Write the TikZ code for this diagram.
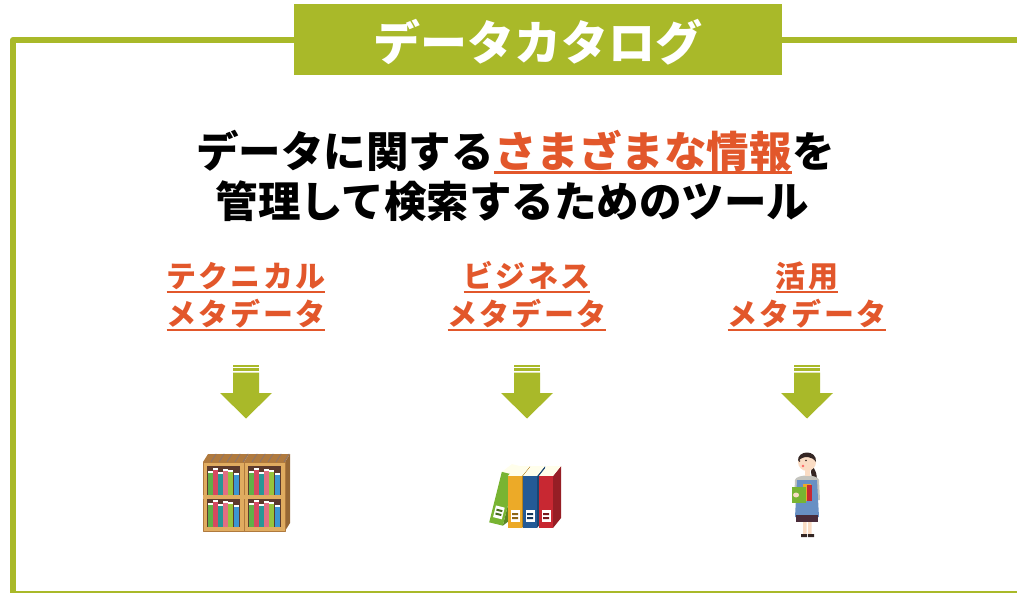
\documentclass[tikz,border=0pt]{standalone}
\usepackage{fontspec}
\setmainfont{Noto Sans CJK JP}
\usetikzlibrary{positioning}
\definecolor{catgreen}{RGB}{169,185,41}
\definecolor{catorange}{RGB}{226,87,43}
\definecolor{shelfwood}{RGB}{224,172,96}
\definecolor{shelftop}{RGB}{176,122,62}
\definecolor{shelfback}{RGB}{92,58,44}
\definecolor{bkgreen}{RGB}{96,176,72}
\definecolor{bkyellow}{RGB}{230,176,48}
\definecolor{bkgray}{RGB}{128,128,116}
\definecolor{bkblue}{RGB}{60,150,210}
\definecolor{bkred}{RGB}{214,72,96}
\definecolor{bkteal}{RGB}{40,150,150}
\definecolor{bkpink}{RGB}{226,110,130}
\definecolor{bklime}{RGB}{150,196,60}
\definecolor{bindred}{RGB}{200,40,50}
\definecolor{bindblue}{RGB}{36,90,150}
\definecolor{bindyellow}{RGB}{236,170,40}
\definecolor{bindgreen}{RGB}{120,180,50}
\definecolor{skin}{RGB}{250,220,196}
\definecolor{hair}{RGB}{52,38,36}
\definecolor{apron}{RGB}{104,144,196}
\definecolor{shirt}{RGB}{196,196,190}
\definecolor{skirt}{RGB}{74,44,58}

\begin{document}
\begin{tikzpicture}[x=1pt, y=-1pt, line join=round, line cap=round,
    frame/.style={draw=catgreen, line width=6pt},
    titlebox/.style={fill=catgreen, minimum width=488pt, minimum height=71pt, inner sep=0pt},
    titletext/.style={text=white, inner sep=0pt, font=\fontsize{47}{47}\bfseries\selectfont},
    headline/.style={inner sep=0pt, font=\fontsize{42.5}{42.5}\bfseries\selectfont},
    kind/.style={text=catorange, inner sep=0pt,
      font=\fontsize{30}{30}\bfseries\selectfont\addfontfeature{LetterSpace=7}},
    uline/.style={draw=catorange, line width=2pt, line cap=butt}]
  \useasboundingbox (0,0) rectangle (1017,593);

  % frame, open to the right
  \draw[frame] (1030,40) -- (13,40) -- (13,594) -- (1030,594);

  \node[titlebox] (titlebox) at (538,39.5) {};
  \node[titletext, anchor=base] (title) at (538,61) {データカタログ};

  % two line headline
  \node[headline, text=catorange, anchor=base] (various) at (643,168) {さまざまな情報};
  \node[headline, anchor=base east] (about) at (various.base west) {データに関する};
  \node[headline, anchor=base west] (wo) at (various.base east) {を};
  \draw[uline, line width=2.5pt] ([yshift=-4.5pt]various.base west) -- ([yshift=-4.5pt]various.base east);
  \node[headline, anchor=base] (tool) at (512.5,218) {管理して検索するためのツール};

  % three kinds of metadata
  \foreach \n/\cx/\txt in {tech/246/テクニカル, biz/527/ビジネス, use/807/活用} {
    \node[kind, anchor=base] (\n1) at (\cx,288) {\txt};
    \node[kind, anchor=base] (\n2) at (\cx,326) {メタデータ};
    \draw[uline] ([yshift=-4pt]\n1.base west) -- ([yshift=-4pt]\n1.base east);
    \draw[uline] ([yshift=-4pt]\n2.base west) -- ([yshift=-4pt]\n2.base east);
    % down arrow
    \fill[catgreen] (\cx-13,365) rectangle (\cx+13,366.8);
    \fill[catgreen] (\cx-13,368.4) rectangle (\cx+13,371);
    \fill[catgreen] (\cx-13,372.6) -- (\cx+13,372.6) -- (\cx+13,393) -- (\cx+26,393)
      -- (\cx,418.5) -- (\cx-26,393) -- (\cx-13,393) -- cycle;
  }

  % bookshelf
  \fill[shelftop!85!black] (285,462) -- (290,454) -- (290,523) -- (285,531) -- cycle;
  \foreach \x in {203,244} {
    \fill[shelftop] (\x,462) -- (\x+5,454) -- (\x+46,454) -- (\x+41,462) -- cycle;
    \foreach \s in {8,16,24,32,40}
      \draw[shelfback!70, line width=0.8pt] (\x+\s,462) -- (\x+\s+5,454);
    \fill[shelfwood] (\x,462) rectangle (\x+41,531);
    \draw[shelftop, line width=0.6pt] (\x,462) rectangle (\x+41,531);
    \foreach \yb in {495,527} {
      \fill[shelfback] (\x+4,\yb-29) rectangle (\x+37,\yb);
      \foreach \c/\h [count=\i] in {bkgreen/22, bkred/25, bkteal/21, bkpink/24, bklime/23, bkblue/20} {
        \fill[\c] (\x+4.5+\i*5.2-5.2,\yb) rectangle ++(5,-\h);
        \fill[white] (\x+4.5+\i*5.2-5.2,\yb-\h) rectangle ++(5,-1.6);
      }
    }
    \fill[shelfwood] (\x,495) rectangle (\x+41,499);
  }

  % binders, the green one leaning behind the others
  \begin{scope}[rotate around={-14:(496,524)}]
    \fill[bindgreen!75!black] (503,472) -- (511,462) -- (511,514) -- (503,524) -- cycle;
    \fill[white!92!yellow] (489,472) -- (497,462) -- (511,462) -- (503,472) -- cycle;
    \fill[bindgreen] (489,472) rectangle (503,524);
    \fill[white] (491.5,506) rectangle (500.5,518);
    \fill[bindgreen!60!black] (493,509) rectangle (499,511) (493,513) rectangle (499,515);
  \end{scope}
  \foreach \x/\c in {508/bindyellow, 523/bindblue, 539/bindred} {
    \fill[\c!75!black] (\x+14,476) -- (\x+22,466) -- (\x+22,518) -- (\x+14,528) -- cycle;
    \fill[white!92!yellow] (\x,476) -- (\x+8,466) -- (\x+22,466) -- (\x+14,476) -- cycle;
    \fill[\c] (\x,476) rectangle (\x+14,528);
    \fill[white] (\x+2.5,510) rectangle (\x+11.5,522);
    \fill[\c!60!black] (\x+4,513) rectangle (\x+10,515) (\x+4,517) rectangle (\x+10,519);
  }

  % woman holding books
  \fill[hair] (812,466) .. controls (818,472) and (818,482) .. (814,488) -- (811,472) -- cycle;
  \fill[shirt] (795,480) .. controls (796,474) and (818,474) .. (819,480) -- (820,500) -- (794,500) -- cycle;
  \fill[apron] (797,480) -- (817,480) -- (819,517) -- (795,517) -- cycle;
  \fill[skirt] (796,515) rectangle (818,522);
  \fill[skin] (803,522) rectangle (806.5,535) (808,522) rectangle (811.5,535);
  \fill[hair] (801,534) rectangle (807,537) (808,534) rectangle (814,537);
  \fill[skin] (805,470) rectangle (810,476);
  \fill[skin] (807,462) circle (9);
  \fill[hair] (798,461) .. controls (797,450) and (817,449) .. (816,462)
    .. controls (812,456) and (804,455) .. (798,461) -- cycle;
  \fill[hair] (799.5,461) circle (0.8) (806,460.5) circle (0.8);
  \fill[red!60] (803,466) circle (1.3);
  \fill[bindyellow] (803,484) rectangle (811,501);
  \fill[bindred] (807,485) rectangle (812,501);
  \fill[bindgreen] (792,487) rectangle (806,503);
  \fill[skin] (796,495) ellipse (3 and 2.5);
\end{tikzpicture}
\end{document}
